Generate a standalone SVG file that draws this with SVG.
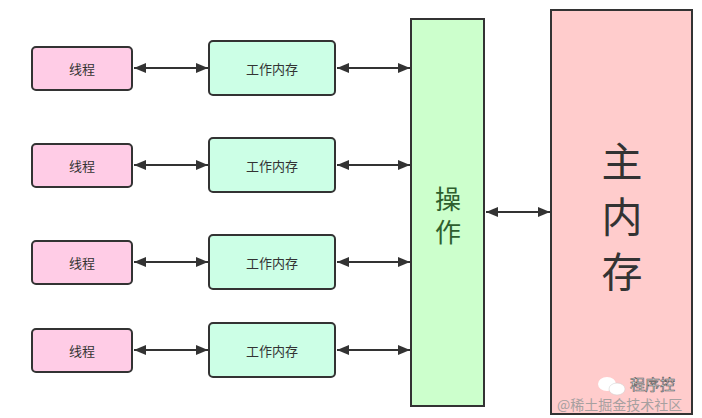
<svg xmlns="http://www.w3.org/2000/svg" width="702" height="418" viewBox="0 0 702 418">
<defs>
<style>
.thread{fill:#ffcce6;stroke:#333;stroke-width:2}
.work{fill:#ccffe6;stroke:#333;stroke-width:2}
.lbl{font-family:"Noto Sans CJK SC","Noto Sans",sans-serif;font-size:13px;fill:#333;text-anchor:middle;dominant-baseline:central}
.conn{stroke:#333;stroke-width:2;fill:none;marker-start:url(#ah);marker-end:url(#ah)}
.vt{font-family:"Noto Sans CJK SC",sans-serif;writing-mode:vertical-rl;text-anchor:middle}
</style>
<marker id="ah" viewBox="0 0 12 10" refX="12" refY="5" markerWidth="12" markerHeight="10" markerUnits="userSpaceOnUse" orient="auto-start-reverse">
<path d="M0,0 L12,5 L0,10 Z" fill="#333"/>
</marker>
</defs>
<rect width="702" height="418" fill="#fff"/>
<g id="connectors">
<line class="conn" x1="134" y1="68" x2="208" y2="68"/>
<line class="conn" x1="337" y1="68" x2="410" y2="68"/>
<line class="conn" x1="134" y1="165" x2="208" y2="165"/>
<line class="conn" x1="337" y1="165" x2="410" y2="165"/>
<line class="conn" x1="134" y1="262" x2="208" y2="262"/>
<line class="conn" x1="337" y1="262" x2="410" y2="262"/>
<line class="conn" x1="134" y1="350" x2="208" y2="350"/>
<line class="conn" x1="337" y1="350" x2="410" y2="350"/>
<line class="conn" x1="486" y1="212" x2="550" y2="212"/>
</g>
<g id="thread1"><rect class="thread" x="32" y="47" width="100" height="43" rx="4"/><text class="lbl" x="82" y="68.5">线程</text></g>
<g id="thread2"><rect class="thread" x="32" y="144" width="100" height="43" rx="4"/><text class="lbl" x="82" y="165.5">线程</text></g>
<g id="thread3"><rect class="thread" x="32" y="241" width="100" height="43" rx="4"/><text class="lbl" x="82" y="262.5">线程</text></g>
<g id="thread4"><rect class="thread" x="32" y="329" width="100" height="43" rx="4"/><text class="lbl" x="82" y="350.5">线程</text></g>
<g id="work1"><rect class="work" x="209" y="41" width="126" height="54" rx="4"/><text class="lbl" x="272" y="68.5">工作内存</text></g>
<g id="work2"><rect class="work" x="209" y="138" width="126" height="54" rx="4"/><text class="lbl" x="272" y="165.5">工作内存</text></g>
<g id="work3"><rect class="work" x="209" y="235" width="126" height="54" rx="4"/><text class="lbl" x="272" y="262.5">工作内存</text></g>
<g id="work4"><rect class="work" x="209" y="323" width="126" height="54" rx="4"/><text class="lbl" x="272" y="350.5">工作内存</text></g>
<g id="operate">
<rect x="411" y="19" width="73" height="387" fill="#ccffcc" stroke="#333" stroke-width="2"/>
<text class="vt" x="448" y="219" font-size="26" letter-spacing="7" fill="#2e5e2e">操作</text>
</g>
<g id="mainmem">
<rect x="551" y="10" width="141" height="404" fill="#ffcccc" stroke="#333" stroke-width="2"/>
<text class="vt" x="622" y="223" font-size="41" letter-spacing="14" fill="#333">主内存</text>
</g>
<g id="watermark">
<ellipse cx="607" cy="384" rx="9" ry="7" fill="#fff"/>
<ellipse cx="617" cy="389" rx="8" ry="6" fill="#fff" stroke="#ccc" stroke-width="0.5"/>
<text x="630" y="390" font-family="Noto Sans CJK SC,sans-serif" font-size="15" fill="#fff" stroke="#555" stroke-width="0.6">程序控</text>
<text x="557" y="410" font-family="Noto Sans CJK SC,sans-serif" font-size="14" fill="#999" opacity="0.85">@稀土掘金技术社区</text>
</g>
</svg>
